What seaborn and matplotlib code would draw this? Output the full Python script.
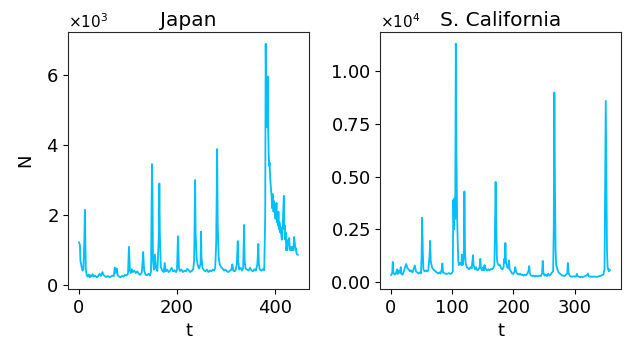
import matplotlib
matplotlib.use("Agg")
import matplotlib.pyplot as plt
import seaborn as sns
import pandas as pd

# ---------------- data ----------------
japan_t = [0, 2, 3, 5, 7, 9, 11, 12, 13, 14, 16, 18, 20, 22, 24, 26, 28, 30, 33, 36,
           39, 42, 45, 48, 50, 53, 56, 59, 62, 65, 68, 71, 73, 75, 77, 79, 82, 85, 88, 91,
           94, 97, 100, 102, 104, 106, 108, 110, 113, 116, 119, 122, 125, 128, 130, 131, 133, 136, 139, 142,
           145, 147, 149, 150, 151, 153, 155, 157, 160, 163, 164, 165, 167, 170, 173, 175, 177, 180, 183, 186,
           189, 192, 195, 198, 200, 202, 204, 206, 209, 212, 215, 218, 221, 224, 227, 230, 233, 235, 237, 238,
           240, 242, 245, 248, 249, 250, 252, 255, 258, 261, 264, 267, 270, 273, 276, 278, 280, 282, 283, 285,
           287, 290, 293, 296, 299, 302, 305, 308, 311, 313, 315, 318, 320, 322, 324, 325, 327, 330, 333, 335,
           337, 338, 340, 343, 346, 349, 352, 355, 358, 361, 364, 366, 367, 369, 372, 375, 378, 380, 381, 382,
           383, 384, 385, 386, 387, 388, 389, 390, 391, 392, 393, 394, 395, 396, 397, 398, 400, 401, 402, 403,
           404, 405, 406, 407, 408, 409, 410, 411, 412, 413, 414, 415, 416, 417, 418, 419, 420, 421, 422, 423,
           424, 425, 426, 427, 428, 429, 430, 431, 432, 433, 434, 435, 436, 437, 438, 439, 440, 441, 442, 443,
           444, 445, 447]
japan_n = [1230, 1150, 700, 560, 420, 450, 1300, 2150, 1200, 450, 280, 250, 310, 230, 290, 260, 320, 250, 280, 230,
           260, 330, 270, 380, 300, 260, 240, 270, 230, 250, 280, 260, 510, 350, 480, 290, 250, 230, 270, 250,
           300, 280, 330, 1100, 420, 350, 460, 380, 420, 350, 400, 330, 300, 360, 700, 950, 420, 300, 290, 330,
           280, 400, 3450, 2800, 700, 450, 880, 500, 410, 1400, 2900, 1500, 520, 420, 380, 640, 400, 450, 380, 420,
           500, 400, 430, 380, 430, 1400, 500, 410, 450, 380, 420, 400, 470, 430, 380, 410, 460, 700, 3000, 1500,
           800, 600, 480, 600, 1530, 800, 500, 430, 400, 450, 380, 420, 400, 450, 420, 500, 1200, 3880, 1800, 800,
           600, 520, 480, 420, 450, 400, 380, 420, 450, 600, 420, 400, 450, 600, 1260, 700, 450, 500, 420, 500,
           1720, 700, 480, 450, 420, 500, 430, 400, 460, 420, 600, 1180, 600, 450, 420, 460, 430, 2000, 6880, 5200,
           4500, 4800, 5950, 4500, 3800, 3400, 3500, 3100, 2900, 2700, 2550, 2200, 2600, 2300, 2100, 2400, 2000, 1900, 2100, 2350,
           1800, 2000, 1700, 2100, 1600, 1800, 1700, 1500, 1650, 1400, 1300, 1500, 1800, 2200, 2550, 1600, 1700, 1300, 1500, 1000,
           1100, 1000, 1200, 1300, 1150, 1350, 1050, 1000, 1100, 1080, 1000, 1050, 1100, 1000, 1150, 1380, 1250, 1100, 1000, 1050,
           900, 880, 870]

socal_t = [0, 2, 3, 4, 6, 8, 10, 11, 13, 15, 16, 17, 19, 21, 23, 25, 27, 29, 31, 33,
           35, 37, 39, 41, 43, 45, 47, 49, 50, 51, 52, 53, 55, 57, 59, 61, 63, 64, 65, 67,
           69, 71, 73, 75, 77, 79, 81, 83, 84, 85, 87, 89, 91, 93, 95, 97, 99, 101, 102, 103,
           104, 105, 106, 107, 108, 109, 110, 111, 113, 115, 116, 117, 119, 120, 121, 122, 124, 126, 128, 130,
           132, 134, 135, 137, 139, 141, 143, 145, 146, 147, 149, 151, 152, 153, 155, 157, 159, 161, 163, 165,
           167, 169, 170, 171, 172, 173, 174, 176, 178, 180, 182, 184, 185, 186, 187, 188, 190, 192, 193, 194,
           196, 198, 200, 202, 203, 205, 207, 209, 211, 213, 215, 217, 219, 221, 223, 225, 226, 227, 229, 231,
           233, 235, 237, 239, 241, 243, 245, 247, 248, 249, 251, 253, 255, 257, 259, 261, 263, 265, 266, 267,
           268, 269, 270, 272, 274, 276, 278, 280, 282, 284, 286, 288, 289, 290, 292, 294, 296, 298, 300, 302,
           304, 305, 307, 309, 311, 313, 315, 317, 319, 321, 322, 323, 325, 327, 329, 331, 333, 335, 337, 339,
           341, 343, 345, 347, 349, 350, 351, 352, 353, 354, 355, 356, 357, 358]
socal_n = [320, 400, 950, 450, 350, 400, 600, 380, 550, 420, 700, 380, 350, 500, 700, 850, 650, 600, 500, 550,
           450, 600, 780, 500, 450, 400, 450, 400, 1200, 3050, 1500, 600, 500, 550, 500, 550, 1200, 1950, 1000, 700,
           600, 550, 500, 450, 400, 450, 400, 600, 880, 450, 420, 400, 380, 400, 420, 380, 400, 500, 3900, 2500,
           4000, 3000, 11320, 6000, 3300, 2000, 1000, 800, 900, 800, 1300, 800, 1200, 4300, 1500, 900, 700, 650, 600, 700,
           650, 1270, 800, 600, 700, 550, 600, 700, 1100, 650, 550, 700, 550, 800, 600, 550, 600, 550, 620, 600,
           650, 800, 2500, 4750, 3000, 1200, 900, 800, 800, 650, 600, 700, 1100, 900, 1850, 1000, 700, 650, 1020, 600,
           500, 400, 380, 500, 700, 450, 380, 350, 400, 330, 350, 300, 350, 320, 400, 550, 750, 400, 300, 280,
           300, 270, 300, 260, 280, 300, 280, 400, 1000, 450, 300, 350, 280, 400, 300, 350, 450, 500, 2500, 9000,
           4500, 1500, 800, 600, 450, 400, 350, 300, 300, 280, 350, 400, 900, 450, 300, 260, 250, 270, 260, 250,
           380, 280, 250, 220, 250, 230, 250, 280, 300, 350, 400, 280, 250, 260, 240, 250, 260, 240, 250, 260,
           280, 300, 320, 350, 600, 4500, 8600, 5000, 1500, 700, 600, 500, 600, 560]

titles = ["Japan", "S. California"]
japan_xticks = [0, 200, 400]
socal_xticks = [0, 100, 200, 300]
japan_yticks = [0, 2000, 4000, 6000]
socal_yticks = [0, 2500, 5000, 7500, 10000]
line_color = "#00BFFF"

# ---------------- style ----------------
sns.set_style("ticks")
plt.rcParams["font.family"] = ["DejaVu Sans"]
plt.rcParams["font.size"] = 13
for key in ["text.color", "axes.labelcolor", "xtick.color", "ytick.color"]:
    plt.rcParams[key] = "black"

fig = plt.figure(figsize=(6.28, 3.45), dpi=100)
ax1 = fig.add_axes([68 / 628, 1 - 289 / 345, 241 / 628, 257 / 345])
ax2 = fig.add_axes([380 / 628, 1 - 289 / 345, 241 / 628, 257 / 345])

datasets = [(japan_t, japan_n), (socal_t, socal_n)]
for ax, (t, n), title in zip([ax1, ax2], datasets, titles):
    df = pd.DataFrame({"t": t, "N": n})
    sns.lineplot(data=df, x="t", y="N", ax=ax, color=line_color, linewidth=1.3,
                 estimator=None)
    ax.set_title(title, fontsize=14.5, pad=4)
    ax.set_xlabel("t", fontsize=13)
    ax.ticklabel_format(style="sci", axis="y", scilimits=(0, 0), useMathText=True)
    ax.tick_params(labelsize=13)
    ax.yaxis.get_offset_text().set_fontsize(11)
    for s in ax.spines.values():
        s.set_color("#262626")

ax1.set_ylabel("N", fontsize=13, labelpad=8)
ax2.set_ylabel("")
ax1.set_xticks(japan_xticks)
ax2.set_xticks(socal_xticks)
ax1.set_yticks(japan_yticks)
ax2.set_yticks(socal_yticks)

fig.savefig("out.png", dpi=100)
